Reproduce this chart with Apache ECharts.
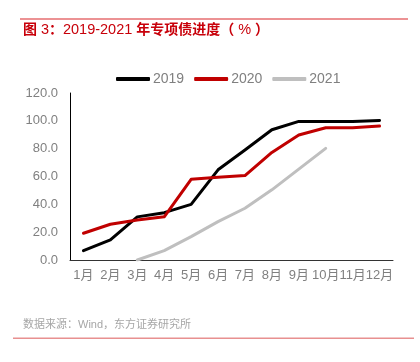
<!DOCTYPE html>
<html><head><meta charset="utf-8">
<script src="https://cdn.jsdelivr.net/npm/echarts@6/dist/echarts.min.js"></script>
<style>html,body{margin:0;padding:0;background:#fff}#c{width:420px;height:362px}</style>
</head><body><div id="c"></div>
<script>
var categories = ['1月','2月','3月','4月','5月','6月','7月','8月','9月','10月','11月','12月'];
var s2019 = [6.7, 14.4, 31, 34, 40, 64.8, 79, 93.6, 99.6, 99.6, 99.6, 100.3];
var s2020 = [19.2, 25.7, 28.8, 31, 58, 59.5, 60.7, 77.3, 89.8, 95, 95, 96.2];
var s2021 = [null, null, 0, 6.7, 16.8, 27.6, 37.2, 50.4, 65.3, 80.2, null, null];
var seriesNames = ['2019','2020','2021'];
var yTicks = [0, 20, 40, 60, 80, 100, 120];

var chart = echarts.init(document.getElementById('c'));
var font = '"Liberation Sans","Noto Sans CJK SC",sans-serif';
function line(name, data, color){
  return {name:name, type:'line', data:data, symbol:'none', smooth:false,
    lineStyle:{color:color, width:3, cap:'round', join:'round'}, itemStyle:{color:color}, animation:false};
}
chart.setOption({
  animation:false,
  textStyle:{fontFamily:font},
  grid:{left:70, right:27, top:93, bottom:102},
  legend:{top:67, left:111, itemWidth:34, itemHeight:4, itemGap:10, icon:'roundRect',
    textStyle:{color:'#808080', fontSize:14, fontFamily:font, padding:[0,0,0,-2]},
    data:seriesNames},
  xAxis:{type:'category', data:categories, boundaryGap:true,
    axisLine:{lineStyle:{color:'#333', width:1}},
    axisTick:{inside:true, length:3, lineStyle:{color:'#333'}},
    axisLabel:{color:'#808080', fontSize:13, margin:9, interval:0}},
  yAxis:{type:'value', min:yTicks[0], max:yTicks[yTicks.length-1], interval:20,
    axisLine:{show:true, lineStyle:{color:'#000', width:1}},
    axisTick:{show:false}, splitLine:{show:false},
    axisLabel:{color:'#808080', fontSize:13, margin:12, formatter:function(v){return v.toFixed(1);}}},
  series:[line(seriesNames[0], s2019, '#000000'), line(seriesNames[1], s2020, '#c00000'), line(seriesNames[2], s2021, '#bfbfbf')],
  graphic:[
    {type:'rect', shape:{x:20, y:18.5, width:388, height:1}, style:{fill:'#d9262b'}},
    {type:'text', left:23, top:23, style:{
      text:'{b|图 }{n|3}{b|：}{n|2019-2021 }{b|年专项债进度（ }{n|%}{b| ）}',
      rich:{
        b:{fill:'#c8000a', font:'bold 14px '+font},
        n:{fill:'#c8000a', font:'14.5px '+font}
      }}},
    {type:'text', left:23, top:319, style:{text:'数据来源：Wind，东方证券研究所', fill:'#a6a6a6', font:'11px '+font}},
    {type:'rect', shape:{x:13, y:337.5, width:401, height:1.5}, style:{fill:'#e89090'}}
  ]
});
</script></body></html>
